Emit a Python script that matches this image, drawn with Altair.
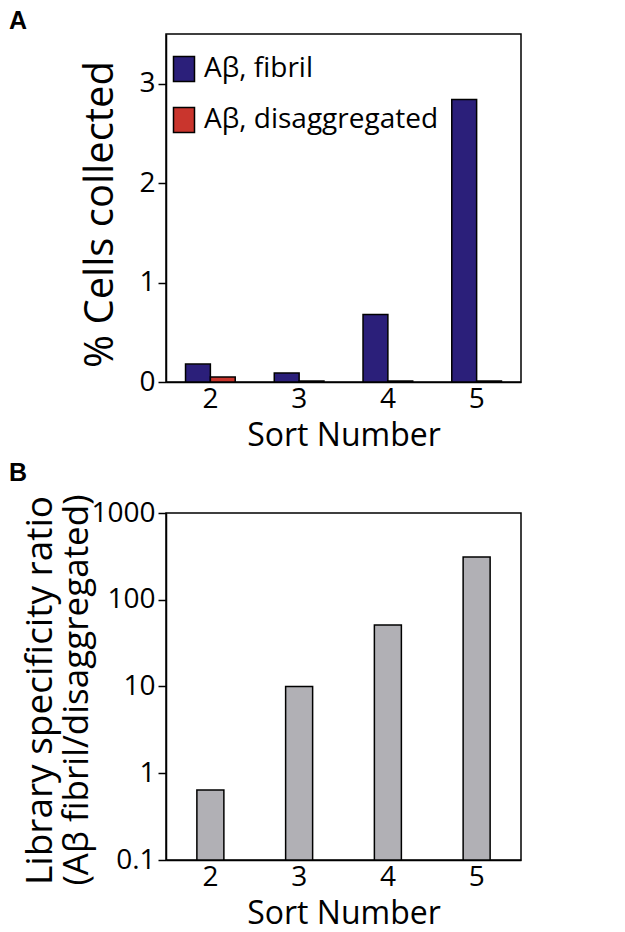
import altair as alt
import pandas as pd

# ---- data ----
sorts = ["2", "3", "4", "5"]
series = ["Aβ, fibril", "Aβ, disaggregated"]
fibril = [0.18, 0.09, 0.68, 2.84]
disagg = [0.05, 0.01, 0.01, 0.01]
ratio = [0.64, 10, 51, 310]
y_ticks_a = [0, 1, 2, 3]
y_ticks_b = [0.1, 1, 10, 100, 1000]
panel_labels = ["A", "B"]
title_b = ["Library specificity ratio", "(Aβ fibril/disaggregated)"]

FONT = "Open Sans"
W = 355
HA = 348
HB = 347
colors = ["#2b1f7a", "#c9352d"]
LAB = 28

dfa = pd.DataFrame({
    "sort": sorts * 2,
    "value": fibril + disagg,
    "series": [series[0]] * 4 + [series[1]] * 4,
})
dfb = pd.DataFrame({"sort": sorts, "ratio": ratio, "base": [y_ticks_b[0]] * len(sorts)})

xscale = alt.Scale(paddingInner=0.44, paddingOuter=0.22)

def xaxis():
    return alt.Axis(title="Sort Number", labelAngle=0, ticks=False, labelPadding=3,
                    titlePadding=7, labelFontSize=LAB, titleFontSize=32,
                    labelFont=FONT, titleFont=FONT, titleFontWeight="normal",
                    labelColor="black", titleColor="black", domainColor="black",
                    domainWidth=1.5)

def yaxis(values, title, size, tx, ty, **kw):
    return alt.Axis(values=values, title=title, tickSize=8, tickWidth=1.5,
                    tickColor="black", domainColor="black", domainWidth=1.5, grid=False,
                    labelFontSize=LAB, labelFont=FONT, labelColor="black", labelPadding=3,
                    titleFontSize=size, titleFont=FONT, titleFontWeight="normal",
                    titleColor="black", titleAngle=270, titleX=tx, titleY=ty,
                    titleAlign="center", titleBaseline="middle", **kw)

bars_a = alt.Chart(dfa).mark_bar(stroke="black", strokeWidth=1.5).encode(
    x=alt.X("sort:N", scale=xscale, axis=xaxis()),
    xOffset=alt.XOffset("series:N", sort=series, scale=alt.Scale(domain=series)),
    y=alt.Y("value:Q", scale=alt.Scale(domain=[0, 3.5], nice=False, zero=True),
            axis=yaxis(y_ticks_a, "% Cells collected", 40, -66, 180)),
    color=alt.Color("series:N", sort=series,
                    scale=alt.Scale(domain=series, range=colors),
                    legend=alt.Legend(title=None, orient="none", legendX=4, legendY=21,
                                      symbolType="M-0.84,-1H0.84V1H-0.84Z", symbolSize=625,
                                      symbolStrokeColor="black", symbolStrokeWidth=1.5,
                                      symbolOpacity=1, labelFontSize=28, labelFont=FONT,
                                      labelColor="black", rowPadding=19, labelOffset=6,
                                      labelLimit=0)),
)

lab_a = alt.Chart(pd.DataFrame({"t": [panel_labels[0]]})).mark_text(
    font="Liberation Sans", fontWeight="bold", fontSize=25, align="left", baseline="top"
).encode(text="t:N", x=alt.value(-157), y=alt.value(-25))

chart_a = alt.layer(bars_a, lab_a).properties(width=W, height=HA)

bars_b = alt.Chart(dfb).mark_bar(size=27, stroke="black", strokeWidth=1.5, color="#b1b0b5").encode(
    x=alt.X("sort:N", scale=xscale, axis=xaxis()),
    y=alt.Y("ratio:Q", stack=None,
            scale=alt.Scale(type="log", domain=[0.1, 1000], nice=False),
            axis=yaxis(y_ticks_b, title_b[0], 37, -126, 177, format="~g")),
    y2=alt.Y2("base:Q"),
)

title_b2 = alt.Chart(pd.DataFrame({"t": [title_b[1]]})).mark_text(
    font=FONT, fontSize=35, angle=270, align="center", baseline="middle"
).encode(text="t:N", x=alt.value(-89), y=alt.value(177))

lab_b = alt.Chart(pd.DataFrame({"t": [panel_labels[1]]})).mark_text(
    font="Liberation Sans", fontWeight="bold", fontSize=25, align="left", baseline="top"
).encode(text="t:N", x=alt.value(-157), y=alt.value(-52))

chart_b = alt.layer(bars_b, title_b2, lab_b).properties(width=W, height=HB)

chart = alt.vconcat(chart_a, chart_b, spacing=8).properties(padding=0).configure(
    font=FONT
).configure_view(stroke="black", strokeWidth=1.5)

chart.save("out.html", embed_options={"renderer": "svg", "actions": False})
